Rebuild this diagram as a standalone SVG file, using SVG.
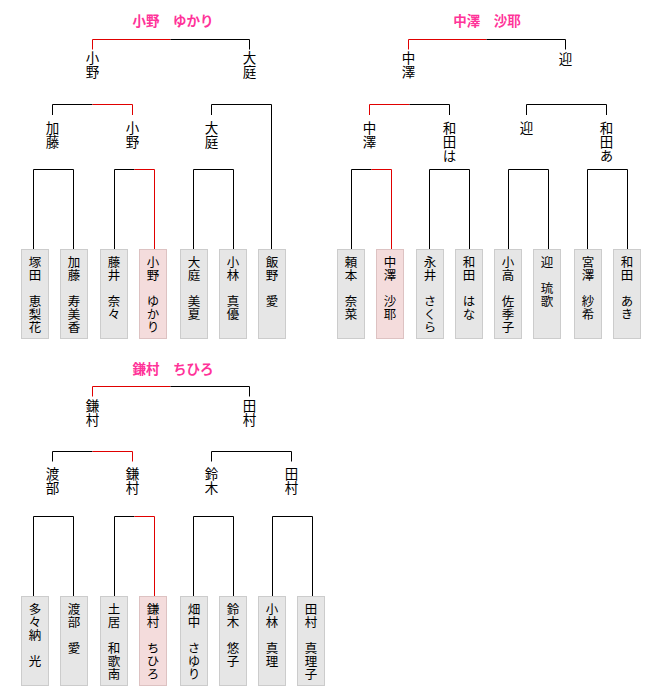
<svg xmlns="http://www.w3.org/2000/svg" width="660" height="687" viewBox="0 0 660 687">
<style>
.ln{fill:none;stroke:#000;stroke-width:1}
.rd{fill:none;stroke:#e00000;stroke-width:1}
.box{fill:#e6e6e6;stroke:#cccccc;stroke-width:1}
.win{fill:#f4dcdc;stroke:#ddc2c2;stroke-width:1}
text{font-family:"Noto Sans CJK JP","Noto Sans CJK SC",sans-serif;fill:#000}
.v{writing-mode:vertical-rl;text-anchor:start;text-orientation:upright}
.nm{font-size:12.5px;letter-spacing:0.6px}
.lb{font-size:13.5px;letter-spacing:0.8px}
.tt{font-size:13.5px;font-weight:bold;fill:#ff3399;text-anchor:middle}
</style>
<rect width="660" height="687" fill="#fff"/>
<g id="titles">
<text class="tt" x="173" y="26">小野　ゆかり</text>
<text class="tt" x="487" y="26">中澤　沙耶</text>
<text class="tt" x="173" y="374">鎌村　ちひろ</text>
</g>
<g id="connectors">
<path class="rd" d="M170.5,39.5H92.5V49.5"/>
<path class="ln" d="M170.5,39.5H249.5V49.5"/>
<path class="ln" d="M92.5,104.5H52.5V115"/>
<path class="rd" d="M92.5,104.5H132.5V115"/>
<path class="ln" d="M211.5,115V104.5H271.5V249.5"/>
<path class="ln" d="M33.5,249.5V169.5H73.5V249.5"/>
<path class="ln" d="M134.5,169.5H114.5V249.5"/>
<path class="rd" d="M134.5,169.5H154.5V249.5"/>
<path class="ln" d="M193.5,249.5V169.5H233.5V249.5"/>

<path class="rd" d="M486.5,39.5H408.5V49.5"/>
<path class="ln" d="M486.5,39.5H565.5V49.5"/>
<path class="rd" d="M409.5,104.5H369.5V115"/>
<path class="ln" d="M409.5,104.5H449.5V115"/>
<path class="ln" d="M526.5,115V104.5H606.5V115"/>
<path class="ln" d="M351.5,249.5V169.5H371.5"/>
<path class="rd" d="M371.5,169.5H391.5V249.5"/>
<path class="ln" d="M429.5,249.5V169.5H469.5V249.5"/>
<path class="ln" d="M508.5,249.5V169.5H548.5V249.5"/>
<path class="ln" d="M587.5,249.5V169.5H627.5V249.5"/>

<path class="rd" d="M170.5,386.5H92.5V396.5"/>
<path class="ln" d="M170.5,386.5H249.5V396.5"/>
<path class="ln" d="M92.5,451.5H52.5V461.5"/>
<path class="rd" d="M92.5,451.5H132.5V461.5"/>
<path class="ln" d="M211.5,461.5V451.5H291.5V461.5"/>
<path class="ln" d="M33.5,596.5V516.5H73.5V596.5"/>
<path class="ln" d="M134.5,516.5H114.5V596.5"/>
<path class="rd" d="M134.5,516.5H154.5V596.5"/>
<path class="ln" d="M193.5,596.5V516.5H233.5V596.5"/>
<path class="ln" d="M272.5,596.5V516.5H312.5V596.5"/>
</g>

<g id="labels">
<text class="lb v" x="92.5" y="51">小野</text>
<text class="lb v" x="249.5" y="51">大庭</text>
<text class="lb v" x="52.5" y="121">加藤</text>
<text class="lb v" x="132.5" y="121">小野</text>
<text class="lb v" x="211.5" y="121">大庭</text>

<text class="lb v" x="408.5" y="51">中澤</text>
<text class="lb v" x="565.5" y="52">迎</text>
<text class="lb v" x="369.5" y="121">中澤</text>
<text class="lb v" x="449.5" y="121">和田は</text>
<text class="lb v" x="526.5" y="121">迎</text>
<text class="lb v" x="606.5" y="121">和田あ</text>

<text class="lb v" x="92.5" y="399">鎌村</text>
<text class="lb v" x="249.5" y="399">田村</text>
<text class="lb v" x="52.5" y="467">渡部</text>
<text class="lb v" x="132.5" y="467">鎌村</text>
<text class="lb v" x="211.5" y="467">鈴木</text>
<text class="lb v" x="291.5" y="467">田村</text>
</g>

<g id="p1"><rect class="box" x="21.5" y="249.5" width="27" height="89"/><text class="nm v" x="35" y="256">塚田　恵梨花</text></g>
<g id="p2"><rect class="box" x="60.5" y="249.5" width="27" height="89"/><text class="nm v" x="74" y="256">加藤　寿美香</text></g>
<g id="p3"><rect class="box" x="100.5" y="249.5" width="27" height="89"/><text class="nm v" x="114" y="256">藤井　奈々</text></g>
<g id="p4"><rect class="win" x="139.5" y="249.5" width="27" height="89"/><text class="nm v" x="153" y="256">小野　ゆかり</text></g>
<g id="p5"><rect class="box" x="180.5" y="249.5" width="27" height="89"/><text class="nm v" x="194" y="256">大庭　美夏</text></g>
<g id="p6"><rect class="box" x="219.5" y="249.5" width="27" height="89"/><text class="nm v" x="233" y="256">小林　真優</text></g>
<g id="p7"><rect class="box" x="258.5" y="249.5" width="27" height="89"/><text class="nm v" x="272" y="256">飯野　愛</text></g>

<g id="p8"><rect class="box" x="337.5" y="249.5" width="27" height="89"/><text class="nm v" x="351" y="256">頼本　奈菜</text></g>
<g id="p9"><rect class="win" x="376.5" y="249.5" width="27" height="89"/><text class="nm v" x="390" y="256">中澤　沙耶</text></g>
<g id="p10"><rect class="box" x="416.5" y="249.5" width="27" height="89"/><text class="nm v" x="430" y="256">永井　さくら</text></g>
<g id="p11"><rect class="box" x="455.5" y="249.5" width="27" height="89"/><text class="nm v" x="469" y="256">和田　はな</text></g>
<g id="p12"><rect class="box" x="494.5" y="249.5" width="27" height="89"/><text class="nm v" x="508" y="256">小高　佐季子</text></g>
<g id="p13"><rect class="box" x="533.5" y="249.5" width="27" height="89"/><text class="nm v" x="547" y="256">迎　琉歌</text></g>
<g id="p14"><rect class="box" x="574.5" y="249.5" width="27" height="89"/><text class="nm v" x="588" y="256">宮澤　紗希</text></g>
<g id="p15"><rect class="box" x="613.5" y="249.5" width="27" height="89"/><text class="nm v" x="627" y="256">和田　あき</text></g>

<g id="p16"><rect class="box" x="21.5" y="596.5" width="27" height="89"/><text class="nm v" x="35" y="603">多々納　光</text></g>
<g id="p17"><rect class="box" x="60.5" y="596.5" width="27" height="89"/><text class="nm v" x="74" y="603">渡部　愛</text></g>
<g id="p18"><rect class="box" x="100.5" y="596.5" width="27" height="89"/><text class="nm v" x="114" y="603">土居　和歌南</text></g>
<g id="p19"><rect class="win" x="139.5" y="596.5" width="27" height="89"/><text class="nm v" x="153" y="603">鎌村　ちひろ</text></g>
<g id="p20"><rect class="box" x="180.5" y="596.5" width="27" height="89"/><text class="nm v" x="194" y="603">畑中　さゆり</text></g>
<g id="p21"><rect class="box" x="219.5" y="596.5" width="27" height="89"/><text class="nm v" x="233" y="603">鈴木　悠子</text></g>
<g id="p22"><rect class="box" x="258.5" y="596.5" width="27" height="89"/><text class="nm v" x="272" y="603">小林　真理</text></g>
<g id="p23"><rect class="box" x="297.5" y="596.5" width="27" height="89"/><text class="nm v" x="311" y="603">田村　真理子</text></g>
</svg>
